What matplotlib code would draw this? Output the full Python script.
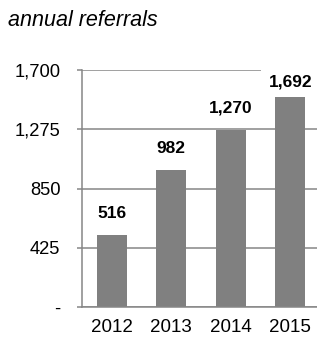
import matplotlib
matplotlib.use("Agg")
import matplotlib.pyplot as plt
from matplotlib.ticker import FuncFormatter

# data
years = ["2012", "2013", "2014", "2015"]
referrals = [516, 982, 1270, 1692]
y_ticks = [0, 425, 850, 1275, 1700]

BAR = "#808080"
LINE = "#868686"

plt.rcParams["font.family"] = ["Liberation Sans", "DejaVu Sans"]

fig = plt.figure(figsize=(3.17, 3.39), dpi=100)
ax = fig.add_axes([82 / 317, 32 / 339, 238 / 317, 237 / 339])

x = range(len(years))
ax.bar(x, referrals, width=0.5, color=BAR, zorder=2)

ax.set_xlim(-0.5, len(years) - 0.5)
ax.set_ylim(0, y_ticks[-1])
ax.set_yticks(y_ticks)
ax.yaxis.set_major_formatter(FuncFormatter(lambda v, p: "-" if v == 0 else f"{int(v):,}"))
ax.set_xticks(list(x))
ax.set_xticklabels(years)

ax.grid(True, axis="y", color=LINE, linewidth=1.1)
ax.set_axisbelow(True)
for side in ("top", "right"):
    ax.spines[side].set_visible(False)
for side in ("left", "bottom"):
    ax.spines[side].set_color(LINE)
    ax.spines[side].set_linewidth(1.1)
ax.tick_params(axis="y", length=3.6, width=1.1, color=LINE, pad=12, labelsize=13.2)
ax.tick_params(axis="x", length=0, pad=9, labelsize=13.5)

# data labels (outside end, kept inside the plot area)
px = y_ticks[-1] / 238.0
for i, v in enumerate(referrals):
    ly = min(v + 22 * px, y_ticks[-1] - 12.5 * px)
    ax.text(i, ly, f"{v:,}", ha="center", va="center", fontsize=12.5,
            fontweight="bold", zorder=3,
            bbox=dict(boxstyle="square,pad=0.4", facecolor="white", edgecolor="none"))

fig.text(8 / 317, 1 - 21 / 339, "annual referrals", fontsize=15.5, style="italic",
         ha="left", va="center")

fig.savefig("out.png", dpi=100)
